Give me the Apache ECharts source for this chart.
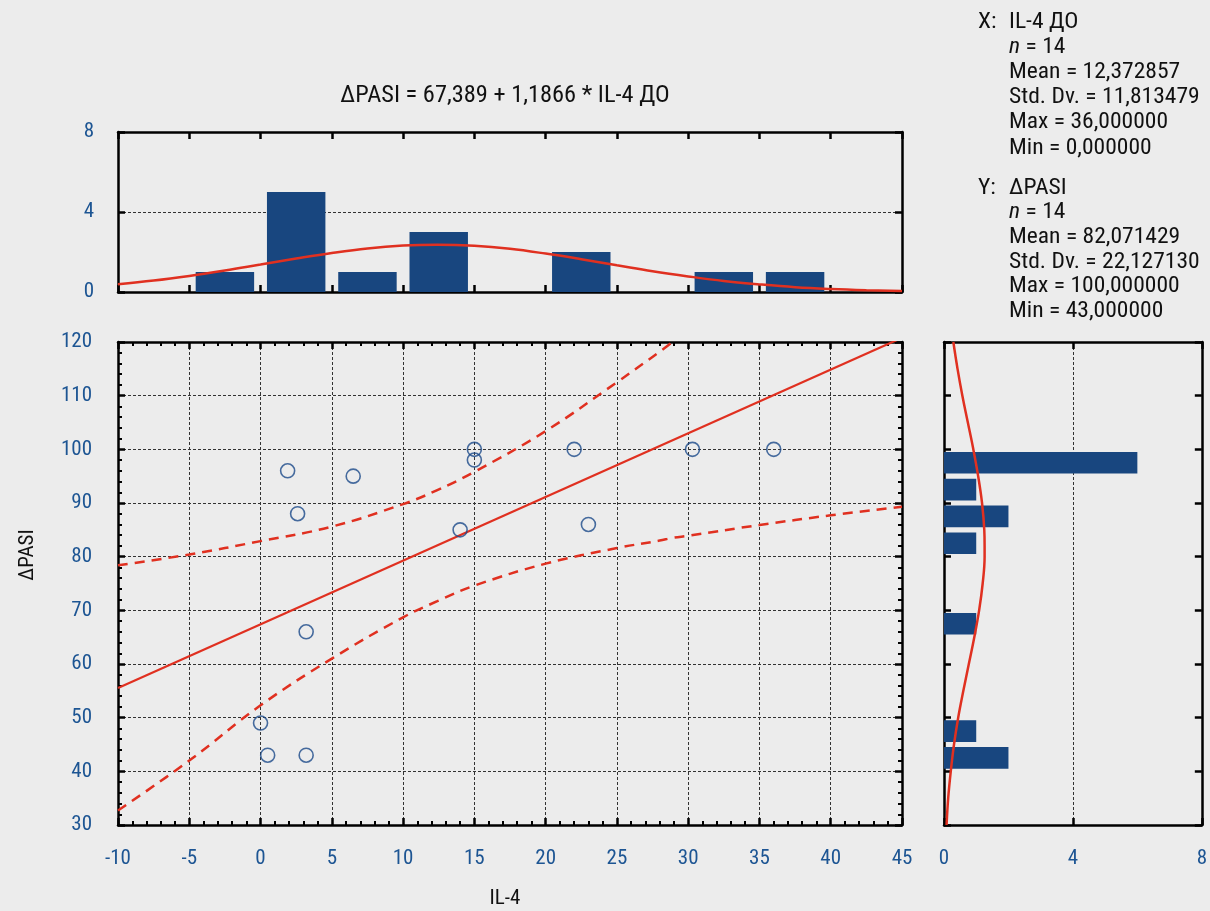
<!DOCTYPE html>
<html>
<head>
<meta charset="utf-8">
<script src="https://cdn.jsdelivr.net/npm/echarts@6/dist/echarts.min.js"></script>
<style>
html,body{margin:0;padding:0;background:#ececec;}
#chart{width:1210px;height:911px;}
</style>
</head>
<body>
<div id="chart"></div>
<script>
// ---- data ----
var il4 = [1.9, 6.5, 2.6, 15, 15, 14, 3.2, 0, 0.5, 3.2, 22, 30.3, 36, 23];
var pasi = [96, 95, 88, 100, 98, 85, 66, 49, 43, 43, 100, 100, 100, 86];

// top histogram of IL-4 (bin start, bin end, count)
var xBinStart = [-5, 0, 5, 10, 20, 30, 35];
var xBinEnd   = [0, 5, 10, 15, 25, 35, 40];
var xBinCount = [1, 5, 1, 3, 2, 1, 1];

// right histogram of ΔPASI
var yBinStart = [40, 45, 65, 80, 85, 90, 95];
var yBinEnd   = [45, 50, 70, 85, 90, 95, 100];
var yBinCount = [2, 1, 1, 1, 2, 1, 6];

// fitted normal curve over top histogram (x, expected count)
var xCurveX = [-10, -7.5, -5, -2.5, 0, 2.5, 5, 7.5, 10, 12.4, 15, 17.5, 20, 22.5, 25, 27.5, 30, 32.5, 35, 37.5, 40, 42.5, 45];
var xCurveY = [0.39, 0.57, 0.80, 1.07, 1.37, 1.67, 1.95, 2.18, 2.32, 2.36, 2.31, 2.16, 1.92, 1.64, 1.34, 1.04, 0.78, 0.55, 0.38, 0.24, 0.15, 0.09, 0.05];

// fitted normal curve beside right histogram (ΔPASI, expected count)
var yCurveY = [30, 35, 40, 45, 50, 55, 60, 65, 70, 75, 80, 82, 85, 90, 95, 100, 105, 110, 115, 120];
var yCurveX = [0.08, 0.13, 0.21, 0.31, 0.44, 0.60, 0.77, 0.94, 1.09, 1.20, 1.26, 1.26, 1.25, 1.18, 1.06, 0.91, 0.74, 0.57, 0.42, 0.29];

// regression line end points
var regX = [-10, 45];
var regY = [55.52, 120.79];

// 95% confidence band
var bandX = [-10, -5, 0, 5, 10, 12.4, 15, 20, 25, 28, 28.9, 30, 35, 40, 45];
var bandUpper = [78.4, 80.4, 82.9, 85.6, 89.8, 92.4, 95.8, 103.4, 112.5, 118.2, 120, null, null, null, null];
var bandLower = [32.7, 42.0, 52.3, 61.0, 68.7, 71.7, 74.6, 78.7, 81.6, 83.0, 83.5, 83.9, 85.9, 87.7, 89.3];

var xTicks = [-10, 45, 5];
var yTicks = [30, 120, 10];
var histTicks = [0, 8, 4];

var titleText = '\u0394PASI = 67,389 + 1,1866 * IL-4 \u0414\u041E';
var xName = 'IL-4';
var yName = '\u0394PASI';
var statsX = ['IL-4 \u0414\u041E', '14', 'Mean = 12,372857', 'Std. Dv. = 11,813479', 'Max = 36,000000', 'Min = 0,000000'];
var statsY = ['\u0394PASI', '14', 'Mean = 82,071429', 'Std. Dv. = 22,127130', 'Max = 100,000000', 'Min = 43,000000'];

// ---- chart ----
var FONT = '"Roboto Condensed", "Liberation Sans", sans-serif';
var LABEL = '#1d5593';
var BAR = '#18467f';
var RED = '#e03020';
var TXT = '#111';

function zipPairs(a, b) { var r = []; for (var i = 0; i < a.length; i++) { if (b[i] !== null) r.push([a[i], b[i]]); } return r; }

function frameAxis(grid, pos, min, max, interval, opts) {
  var ax = {
    gridIndex: grid, position: pos, type: 'value', min: min, max: max, interval: interval,
    axisLine: { show: true, onZero: false, lineStyle: { color: '#000', width: 2.5 } },
    axisTick: { show: true, inside: true, length: 7, lineStyle: { color: '#000', width: 2.5 } },
    axisLabel: { show: false },
    splitLine: { show: false }
  };
  if (opts) for (var k in opts) ax[k] = opts[k];
  return ax;
}

var labelStyle = { show: true, color: LABEL, fontFamily: FONT, fontSize: 21 };
var dashSplit = { show: true, lineStyle: { color: '#333', width: 1, type: [3, 2] } };
var minor5 = { show: true, splitNumber: 5, length: 4, lineStyle: { color: '#000', width: 2 } };

var xAxes = [
  frameAxis(0, 'bottom', xTicks[0], xTicks[1], xTicks[2]),
  frameAxis(0, 'top', xTicks[0], xTicks[1], xTicks[2]),
  frameAxis(1, 'bottom', xTicks[0], xTicks[1], xTicks[2], {
    axisLabel: Object.assign({}, labelStyle, { margin: 23 }),
    splitLine: dashSplit, minorTick: minor5
  }),
  frameAxis(1, 'top', xTicks[0], xTicks[1], xTicks[2], { minorTick: minor5 }),
  frameAxis(2, 'bottom', histTicks[0], histTicks[1], histTicks[2], {
    axisLabel: Object.assign({}, labelStyle, { margin: 23 }), splitLine: dashSplit
  }),
  frameAxis(2, 'top', histTicks[0], histTicks[1], histTicks[2])
];
var yAxes = [
  frameAxis(0, 'left', histTicks[0], histTicks[1], histTicks[2], {
    axisLabel: Object.assign({}, labelStyle, { margin: 24 }), splitLine: dashSplit
  }),
  frameAxis(0, 'right', histTicks[0], histTicks[1], histTicks[2]),
  frameAxis(1, 'left', yTicks[0], yTicks[1], yTicks[2], {
    axisLabel: Object.assign({}, labelStyle, { margin: 26 }), splitLine: dashSplit, minorTick: minor5
  }),
  frameAxis(1, 'right', yTicks[0], yTicks[1], yTicks[2], { minorTick: minor5 }),
  frameAxis(2, 'left', yTicks[0], yTicks[1], yTicks[2]),
  frameAxis(2, 'right', yTicks[0], yTicks[1], yTicks[2])
];

function histTop(params, api) {
  var s = api.value(0), e = api.value(1), c = api.value(2);
  var w = (e - s) * 0.09;
  var p0 = api.coord([s + w, c]);
  var p1 = api.coord([e - w, 0]);
  return { type: 'rect', shape: { x: p0[0], y: p0[1], width: p1[0] - p0[0], height: p1[1] - p0[1] }, style: { fill: BAR } };
}
function histRight(params, api) {
  var s = api.value(0), e = api.value(1), c = api.value(2);
  var w = (e - s) * 0.095;
  var p0 = api.coord([0, e - w]);
  var p1 = api.coord([c, s + w]);
  return { type: 'rect', shape: { x: p0[0], y: p0[1], width: p1[0] - p0[0], height: p1[1] - p0[1] }, style: { fill: BAR } };
}

var topBins = xBinStart.map(function (v, i) { return [v, xBinEnd[i], xBinCount[i]]; });
var rightBins = yBinStart.map(function (v, i) { return [v, yBinEnd[i], yBinCount[i]]; });

function txt(x, y, s, opt) {
  opt = opt || {};
  var st = { text: s, x: 0, y: 0, fontFamily: FONT, fontSize: opt.size || 22, fill: TXT, verticalAlign: 'middle', align: opt.align || 'left' };
  if (opt.rich) st.rich = opt.rich;
  return { type: 'text', x: x, y: y, scaleX: opt.sx || 1, rotation: opt.rot || 0, style: st };
}
function statsBlock(yc, head, vals, gap) {
  var rich = { i: { fontStyle: 'italic', fontFamily: FONT, fontSize: 22, fill: TXT } };
  var sx = 1.07;
  var els = [txt(978, yc, head, { sx: sx }), txt(1009, yc, vals[0], { sx: sx }), txt(1009, yc + gap, '{i|n} = ' + vals[1], { sx: sx, rich: rich })];
  for (var i = 2; i < vals.length; i++) els.push(txt(1009, yc + gap * i, vals[i], { sx: sx }));
  return els;
}

var graphics = statsBlock(22, 'X:', statsX, 25.2).concat(statsBlock(188, 'Y:', statsY, 24.7));
graphics.push(txt(505, 96, titleText, { size: 23, align: 'center', sx: 1.06 }));
graphics.push(txt(505, 899, xName, { size: 21, align: 'center' }));
graphics.push(txt(28, 555, yName, { size: 21, align: 'center', rot: Math.PI / 2 }));

var chart = echarts.init(document.getElementById('chart'), null, { renderer: 'canvas' });
chart.setOption({
  backgroundColor: '#ececec',
  animation: false,
  grid: [
    { left: 118, top: 132, width: 784, height: 160 },
    { left: 118, top: 342, width: 784, height: 483 },
    { left: 944, top: 342, width: 258, height: 483 }
  ],
  xAxis: xAxes,
  yAxis: yAxes,
  graphic: graphics,
  series: [
    { type: 'custom', xAxisIndex: 0, yAxisIndex: 0, renderItem: histTop, data: topBins, encode: { x: [0, 1], y: 2 }, z: 2 },
    { type: 'line', xAxisIndex: 0, yAxisIndex: 0, data: zipPairs(xCurveX, xCurveY), smooth: 0.4, showSymbol: false, lineStyle: { color: RED, width: 2.5 }, z: 3 },
    { type: 'line', xAxisIndex: 2, yAxisIndex: 2, data: zipPairs(regX, regY), showSymbol: false, clip: true, lineStyle: { color: RED, width: 2.2 }, z: 3 },
    { type: 'line', xAxisIndex: 2, yAxisIndex: 2, data: zipPairs(bandX, bandUpper), smooth: 0.4, showSymbol: false, clip: true, lineStyle: { color: RED, width: 2.5, type: [10, 7] }, z: 3 },
    { type: 'line', xAxisIndex: 2, yAxisIndex: 2, data: zipPairs(bandX, bandLower), smooth: 0.4, showSymbol: false, clip: true, lineStyle: { color: RED, width: 2.5, type: [10, 7] }, z: 3 },
    { type: 'scatter', xAxisIndex: 2, yAxisIndex: 2, data: zipPairs(il4, pasi), symbol: 'circle', symbolSize: 14, itemStyle: { color: 'rgba(0,0,0,0)', borderColor: '#1c4a8a', borderWidth: 1.6 }, z: 4 },
    { type: 'custom', xAxisIndex: 4, yAxisIndex: 4, renderItem: histRight, data: rightBins, encode: { y: [0, 1], x: 2 }, z: 2 },
    { type: 'line', xAxisIndex: 4, yAxisIndex: 4, data: zipPairs(yCurveX, yCurveY), smooth: 0.4, showSymbol: false, lineStyle: { color: RED, width: 2.5 }, z: 3 }
  ]
});
</script>
</body>
</html>
